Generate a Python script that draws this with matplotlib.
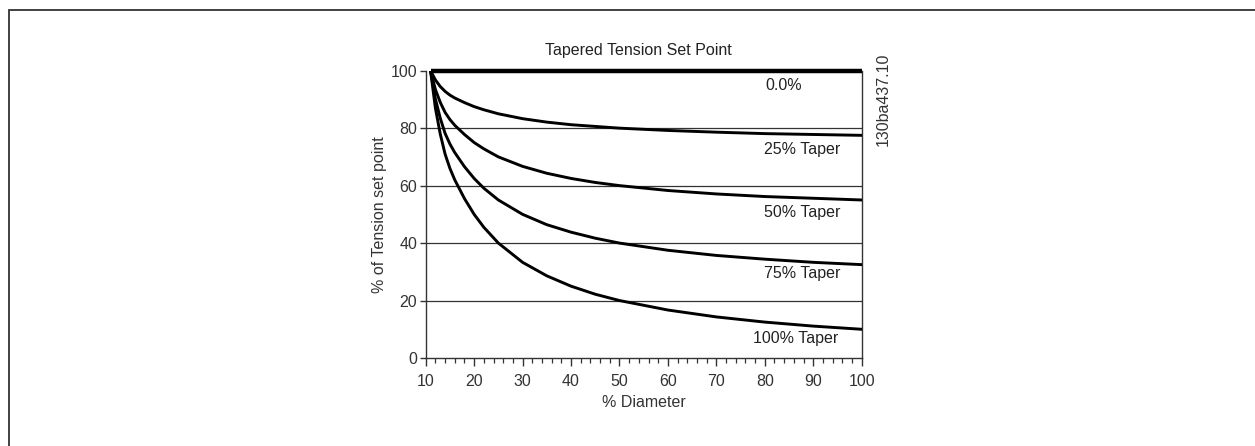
import matplotlib
matplotlib.use("Agg")
import matplotlib.pyplot as plt
from matplotlib.patches import Rectangle
from matplotlib.ticker import MultipleLocator

plt.rcParams['font.family'] = ['Liberation Sans', 'DejaVu Sans']

# values
diameter = [11, 12, 13, 14, 15, 16, 18, 20, 22, 25, 30, 35, 40, 45, 50, 60, 70, 80, 90, 100]
taper_0 = [100] * len(diameter)
taper_25 = [100, 96.8, 94.5, 92.8, 91.5, 90.5, 88.9, 87.5, 86.4, 85, 83.3, 82.1, 81.2, 80.6, 80,
            79.2, 78.6, 78.1, 77.8, 77.5]
taper_50 = [100, 93.5, 89, 85.5, 83, 81, 77.8, 75, 72.8, 70, 66.7, 64.3, 62.5, 61.1, 60,
            58.3, 57.1, 56.2, 55.6, 55]
taper_75 = [100, 90.2, 83.5, 78.2, 74.5, 71.5, 66.6, 62.5, 59.1, 55, 50, 46.4, 43.8, 41.7, 40,
            37.5, 35.7, 34.4, 33.3, 32.5]
taper_100 = [100, 87, 78, 71, 66, 62, 55.5, 50, 45.5, 40, 33.3, 28.6, 25, 22.2, 20,
             16.7, 14.3, 12.5, 11.1, 10]

curve_labels = ["0.0%", "25% Taper", "50% Taper", "75% Taper", "100% Taper"]
label_pos = [(80.2, 94.8), (79.8, 72.6), (79.8, 50.5), (79.8, 29.4), (77.6, 6.8)]

FS = 11.5

fig = plt.figure(figsize=(12.55, 4.46), dpi=100)
ax = fig.add_axes([0.3392, 0.1973, 0.3474, 0.6442])

# grid lines
for yv in [20, 40, 60, 80]:
    ax.axhline(yv, color='#333333', lw=0.9, zorder=1)

ax.plot(diameter, taper_0, color='black', lw=3.2, solid_capstyle='butt', zorder=3,
        clip_on=False)
for ys in [taper_25, taper_50, taper_75, taper_100]:
    ax.plot(diameter, ys, color='black', lw=2.1, zorder=3)

for txt, (lx, ly) in zip(curve_labels, label_pos):
    ax.text(lx, ly, txt, fontsize=FS, color='#222222', ha='left', va='center')

ax.set_xlim(10, 100)
ax.set_ylim(0, 100)
ax.xaxis.set_major_locator(MultipleLocator(10))
ax.xaxis.set_minor_locator(MultipleLocator(2))
ax.yaxis.set_major_locator(MultipleLocator(20))
ax.tick_params(axis='x', which='major', direction='out', length=6, width=1,
               color='#333333', labelsize=FS, labelcolor='#333333', pad=5.5)
ax.tick_params(axis='x', which='minor', direction='out', length=3.5, width=0.9,
               color='#333333')
ax.tick_params(axis='y', which='major', direction='out', length=4, width=1,
               color='#333333', labelsize=FS, labelcolor='#333333', pad=2)

for side in ['left', 'bottom', 'right']:
    ax.spines[side].set_color('#333333')
    ax.spines[side].set_linewidth(1.0)
ax.spines['top'].set_visible(False)

ax.set_xlabel("% Diameter", fontsize=FS, color='#333333', labelpad=4)
ax.set_ylabel("% of Tension set point", fontsize=FS, color='#333333', labelpad=3)

fig.text(638 / 1255, 1 - 51 / 446, "Tapered Tension Set Point", fontsize=FS,
         color='#222222', ha='center', va='center')
fig.text(883 / 1255, 1 - 99 / 446, "130ba437.10", fontsize=FS, color='#333333',
         rotation=90, ha='center', va='center')

# outer frame
fig.patches.append(Rectangle((9 / 1255, -0.2), 2, 1.2 - 9.5 / 446, transform=fig.transFigure,
                             fill=False, edgecolor='#333333', lw=1.3, clip_on=False))

fig.savefig("out.png", dpi=100)
